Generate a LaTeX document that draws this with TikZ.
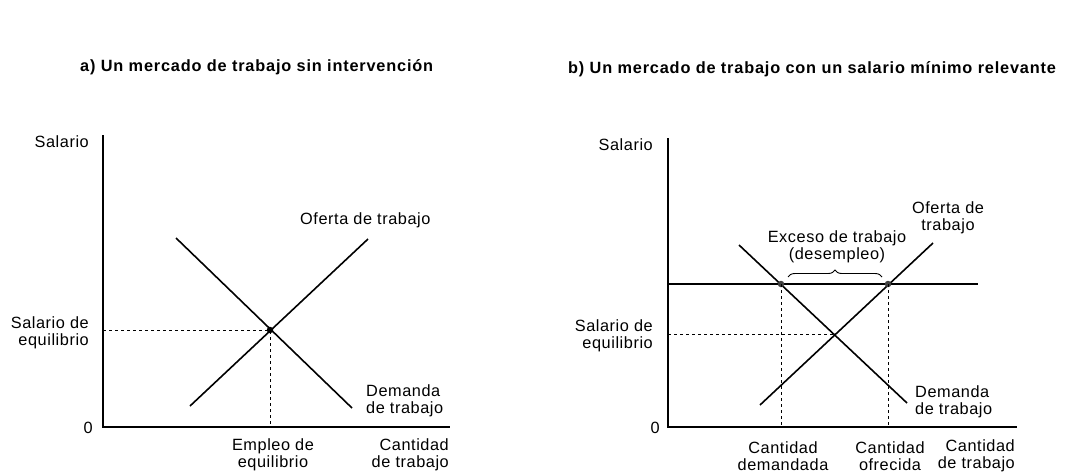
\documentclass[tikz,border=0pt]{standalone}
\usepackage{fontspec}
\setmainfont{Liberation Sans}
\newfontfamily\lblfont[LetterSpace=3.5]{Liberation Sans}
\newfontfamily\ttlfont[LetterSpace=5]{Liberation Sans}
\usetikzlibrary{decorations.pathreplacing}
\begin{document}
\begin{tikzpicture}[x=1pt,y=-1pt,
  lbl/.style={font=\lblfont\fontsize{16.3}{17}\selectfont, inner sep=0pt},
  ttl/.style={font=\ttlfont\fontsize{16.3}{17}\selectfont\bfseries, inner sep=0pt},
  axis/.style={line width=1.6pt},
  curve/.style={line width=1.6pt},
  guide/.style={line width=0.8pt, dash pattern=on 3pt off 3pt},
  eqdot/.style={circle, fill=black, inner sep=0pt, minimum size=6.5pt},
  mdot/.style={circle, fill=black!75, inner sep=0pt, minimum size=6.5pt}]
\useasboundingbox (0,0) rectangle (1075,472);
\fill[white] (0,0) rectangle (1075,472);

% ---------- panel a ----------
\node[ttl, anchor=west] (ta) at (80,67) {a) Un mercado de trabajo sin intervención};
\coordinate (oa) at (103,427);
\coordinate (ya) at (103,135);
\coordinate (xa) at (450,427);
\draw[axis] (ya) -- (oa) -- (xa);
\coordinate (da1) at (176,238);
\coordinate (da2) at (352,408);
\coordinate (sa1) at (190,406);
\coordinate (sa2) at (368,239);
\draw[curve] (da1) -- (da2);
\draw[curve] (sa1) -- (sa2);
\node[eqdot] (ea) at (270,330) {};
\coordinate (eay) at (103,330);
\coordinate (eax) at (270,427);
\draw[guide] (eay) -- (ea.center) -- (eax);
\node[lbl, anchor=east] (sal_a) at (89,142) {Salario};
\node[lbl, anchor=east, align=right] (seq_a) at (89,333) {Salario de\\equilibrio};
\node[lbl, anchor=east] (zero_a) at (93,428) {0};
\node[lbl, anchor=west] (of_a) at (300,220) {Oferta de trabajo};
\node[lbl, anchor=west, align=left] (dem_a) at (366,401) {Demanda\\de trabajo};
\node[lbl, align=center] (emp_a) at (273,455) {Empleo de\\equilibrio};
\node[lbl, anchor=east, align=right] (cant_a) at (449,455) {Cantidad\\de trabajo};

% ---------- panel b ----------
\node[ttl, anchor=west] (tb) at (568,69) {b) Un mercado de trabajo con un salario mínimo relevante};
\coordinate (ob) at (668,427);
\coordinate (yb) at (668,138);
\coordinate (xb) at (1017,427);
\draw[axis] (yb) -- (ob) -- (xb);
\coordinate (mw1) at (668,284);
\coordinate (mw2) at (978,284);
\draw[curve] (mw1) -- (mw2);
\coordinate (db1) at (739,245);
\coordinate (db2) at (907,403);
\coordinate (sb1) at (760,405);
\coordinate (sb2) at (933,243);
\draw[curve] (db1) -- (db2);
\draw[curve] (sb1) -- (sb2);
\coordinate (eb) at (834,334);
\coordinate (eby) at (668,334);
\draw[guide] (eby) -- (eb);
\node[mdot] (qd) at (781,284) {};
\node[mdot] (qs) at (888,284) {};
\coordinate (qdx) at (781,427);
\coordinate (qsx) at (888,427);
\draw[guide] (qd.center) -- (qdx);
\draw[guide] (qs.center) -- (qsx);
\coordinate (br1) at (788,277);
\coordinate (br2) at (882,277);
\draw[line width=0.9pt, decorate, decoration={brace, amplitude=7pt}] (br1) -- (br2);
\node[lbl, align=center] (exc) at (837,247) {Exceso de trabajo\\(desempleo)};
\node[lbl, anchor=east] (sal_b) at (653,145) {Salario};
\node[lbl, anchor=east, align=right] (seq_b) at (653,336) {Salario de\\equilibrio};
\node[lbl, anchor=east] (zero_b) at (660,428) {0};
\node[lbl, align=center] (of_b) at (948,218) {Oferta de\\trabajo};
\node[lbl, anchor=west, align=left] (dem_b) at (915,402) {Demanda\\de trabajo};
\node[lbl, align=center] (cd) at (783,456) {Cantidad\\demandada};
\node[lbl, align=center] (co) at (890,456) {Cantidad\\ofrecida};
\node[lbl, anchor=east, align=right] (ct) at (1015,456) {Cantidad\\de trabajo};
\end{tikzpicture}
\end{document}
